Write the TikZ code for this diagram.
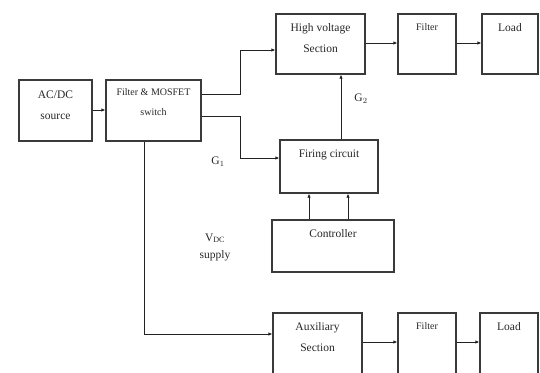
\documentclass[tikz,border=0pt]{standalone}
\usepackage{fontspec}
\setmainfont{Liberation Serif}
\usepackage{xcolor}
\usetikzlibrary{arrows.meta, positioning}
\definecolor{cborde}{HTML}{3a3a3a}
\definecolor{clinea}{HTML}{222222}
\tikzset{
  bloque/.style={rectangle, draw=cborde, line width=1.3pt, inner sep=0pt},
  rotulo/.style={anchor=north, align=center, inner sep=0pt, yshift=-10pt,
                 font=\fontsize{11.5}{21}\selectfont, text=black!85},
  flecha/.style={-{Latex[length=4pt, width=3.5pt]}, line width=0.9pt, draw=clinea},
  marca/.style={font=\fontsize{11.5}{17}\selectfont, align=center, text=black!85},
}

\begin{document}
\begin{tikzpicture}[x=1pt, y=-1pt]
    \useasboundingbox (0,0) rectangle (540,372);
    \node[bloque, minimum width=73pt, minimum height=61pt, label={[rotulo, yshift=-1pt]north:AC/DC\\source}] (src) at (55.5,110.5) {};
    \node[bloque, minimum width=95pt, minimum height=61pt, label={[rotulo, yshift=1pt, font=\fontsize{10}{20}\selectfont]north:Filter \& MOSFET\\switch}] (fms) at (153.5,110.5) {};
    \node[bloque, minimum width=89pt, minimum height=60pt, label={[rotulo]north:High voltage\\Section}] (hv) at (320.5,44) {};
    \node[bloque, minimum width=58pt, minimum height=60pt, label={[rotulo, font=\fontsize{10}{20}\selectfont]north:Filter}] (fil1) at (427,44) {};
    \node[bloque, minimum width=56pt, minimum height=60pt, label={[rotulo]north:Load}] (load1) at (510,44) {};
    \node[bloque, minimum width=98pt, minimum height=53pt, label={[rotulo]north:Firing circuit}] (fir) at (329,166.5) {};
    \node[bloque, minimum width=122pt, minimum height=52pt, label={[rotulo]north:Controller}] (ctl) at (333,246) {};
    \node[bloque, minimum width=89pt, minimum height=63pt, label={[rotulo]north:Auxiliary\\Section}] (aux) at (317.5,344.5) {};
    \node[bloque, minimum width=58pt, minimum height=63pt, label={[rotulo, font=\fontsize{10}{20}\selectfont]north:Filter}] (fil2) at (427,344.5) {};
    \node[bloque, minimum width=58pt, minimum height=63pt, label={[rotulo]north:Load}] (load2) at (509,344.5) {};

    \node[marca] (g1) at (218,162) {G$_1$};
    \node[marca] (g2) at (361,99) {G$_2$};
    \node[marca] (vdc) at (215,247) {V$_{\mathrm{DC}}$\\supply};

    \coordinate (codo) at (144,334);

    \draw[flecha] (src.east |- 0,110) -- (fms.west |- 0,110);
    \draw[flecha] (fms.east |- 0,94) -- (240,94) -- (240,50) -- (hv.west |- 0,50);
    \draw[flecha] (fms.east |- 0,116) -- (240,116) -- (240,158) -- (fir.west |- 0,158);
    \draw[flecha] (hv.east |- 0,43) -- (fil1.west |- 0,43);
    \draw[flecha] (fil1.east |- 0,43) -- (load1.west |- 0,43);
    \draw[flecha] (fir.north -| 341,0) -- (hv.south -| 341,0);
    \draw[flecha] (ctl.north -| 309,0) -- (fir.south -| 309,0);
    \draw[flecha] (ctl.north -| 348,0) -- (fir.south -| 348,0);
    \draw[flecha] (fms.south -| codo) -- (codo) -- (codo -| aux.west);
    \draw[flecha] (aux.east |- 0,342) -- (fil2.west |- 0,342);
    \draw[flecha] (fil2.east |- 0,342) -- (load2.west |- 0,342);
\end{tikzpicture}
\end{document}
